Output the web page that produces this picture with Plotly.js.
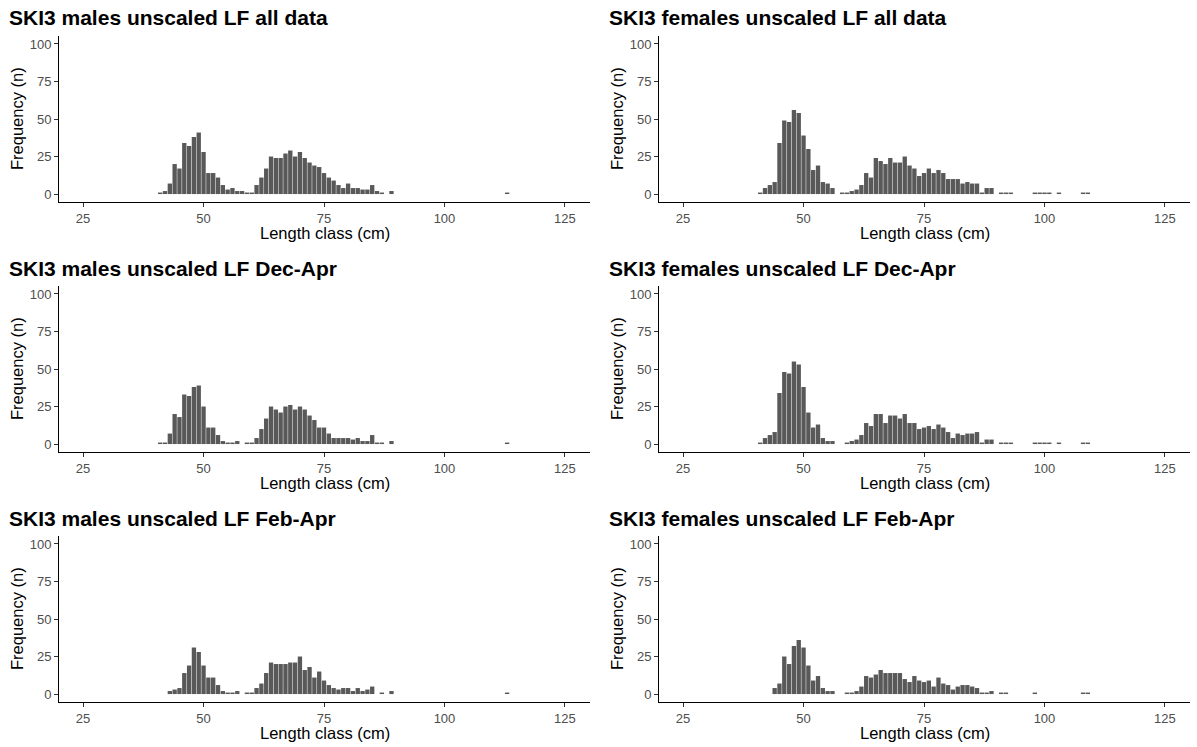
<!DOCTYPE html>
<html>
<head>
<meta charset="utf-8">
<script src="https://cdn.plot.ly/plotly-3.0.1.min.js"></script>
<style>html,body{margin:0;padding:0;background:#fff;}#chart{width:1197px;height:747px;}</style>
</head>
<body>
<div id="chart"></div>
<script>
// Panel titles
const panelTitles = [
  "SKI3 males unscaled LF all data", "SKI3 females unscaled LF all data",
  "SKI3 males unscaled LF Dec-Apr", "SKI3 females unscaled LF Dec-Apr",
  "SKI3 males unscaled LF Feb-Apr", "SKI3 females unscaled LF Feb-Apr"
];
const xTickVals = [25, 50, 75, 100, 125];
const yTickVals = [0, 25, 50, 75, 100];
const xAxisTitle = "Length class (cm)";
const yAxisTitle = "Frequency (n)";

// Males, all data
const malesAllLen = [41,42,43,44,45,46,47,48,49,50,51,52,53,54,55,56,57,58,59,60,61,62,63,64,65,66,67,68,69,70,71,72,73,74,75,76,77,78,79,80,81,82,83,84,85,86,87,89,113];
const malesAllN   = [1,2,7,20,17,34,32,38,41,28,14,14,11,6,3,4,2,2,1,1,6,11,17,25,24,24,27,29,25,28,24,21,19,18,14,11,9,6,4,7,4,4,3,3,6,2,1,2,1];

// Females, all data
const femalesAllLen = [41,42,43,44,45,46,47,48,49,50,51,52,53,54,55,56,58,59,60,61,62,63,64,65,66,67,68,69,70,71,72,73,74,75,76,77,78,79,80,81,82,83,84,85,86,87,88,89,91,92,93,98,99,100,101,103,108,109];
const femalesAllN   = [1,4,6,8,34,49,48,56,54,39,30,16,19,8,7,4,1,1,2,3,6,14,11,24,22,20,24,21,21,25,19,17,12,14,17,14,16,14,10,10,10,7,8,7,7,1,4,4,1,1,1,1,1,1,1,1,1,1];

// Males, Dec-Apr
const malesDecLen = [41,42,43,44,45,46,47,48,49,50,51,52,53,54,55,56,57,59,60,61,62,63,64,65,66,67,68,69,70,71,72,73,74,75,76,77,78,79,80,81,82,83,84,85,86,87,89,113];
const malesDecN   = [1,1,7,20,18,33,32,38,39,25,11,11,6,2,1,1,2,1,1,4,10,17,25,23,21,25,26,23,25,23,19,16,11,11,7,4,4,4,4,3,4,2,2,6,1,1,2,1];

// Females, Dec-Apr
const femalesDecLen = [41,42,43,44,45,46,47,48,49,50,51,52,53,54,55,56,59,60,61,62,63,64,65,66,67,68,69,70,71,72,73,74,75,76,77,78,79,80,81,82,83,84,85,86,87,88,89,91,92,93,98,99,100,101,103,108,109];
const femalesDecN   = [1,4,6,8,34,48,47,55,53,38,21,11,13,4,2,2,1,2,3,6,14,12,20,20,14,19,19,17,20,14,14,10,11,12,10,13,11,8,4,7,6,7,7,8,1,3,3,1,1,1,1,1,1,1,1,1,1];

// Males, Feb-Apr
const malesFebLen = [43,44,45,46,47,48,49,50,51,52,53,54,55,56,57,59,60,61,62,63,64,65,66,67,68,69,70,71,72,73,74,75,76,77,78,79,80,81,82,83,84,85,87,89,113];
const malesFebN   = [2,3,4,14,19,31,28,19,11,11,6,2,1,1,2,1,1,4,7,14,21,20,20,20,21,21,25,16,18,11,15,9,6,4,3,4,4,2,4,2,3,5,1,2,1];

// Females, Feb-Apr
const femalesFebLen = [44,45,46,47,48,49,50,51,52,53,54,55,56,59,60,61,62,63,64,65,66,67,68,69,70,71,72,73,74,75,76,77,78,79,80,81,82,83,84,85,86,87,88,89,91,92,98,108,109];
const femalesFebN   = [4,7,25,20,32,36,31,19,9,12,4,2,2,1,1,2,5,12,11,13,16,14,14,14,14,10,8,12,9,8,9,5,11,7,6,3,5,6,6,5,4,1,1,2,1,1,1,1,1];

const panelData = [
  [malesAllLen, malesAllN], [femalesAllLen, femalesAllN],
  [malesDecLen, malesDecN], [femalesDecLen, femalesDecN],
  [malesFebLen, malesFebN], [femalesFebLen, femalesFebN]
];

const W = 1197, H = 747;
const colPx = [[59, 590], [659, 1190]];
const rowPx = [[36, 202], [286, 452], [536, 702]];
const FONT = "Liberation Sans, Arial, sans-serif";
const barColor = "#595959";

const traces = [];
const layout = {
  width: W, height: H,
  margin: {l: 0, r: 0, t: 0, b: 0},
  paper_bgcolor: "#ffffff", plot_bgcolor: "#ffffff",
  showlegend: false, bargap: 0.1,
  font: {family: FONT, color: "#000"},
  annotations: []
};

panelData.forEach((d, i) => {
  const r = Math.floor(i / 2), c = i % 2;
  const ax = i === 0 ? "" : String(i + 1);
  traces.push({
    type: "bar", x: d[0], y: d[1],
    xaxis: "x" + ax, yaxis: "y" + ax,
    marker: {color: barColor, line: {width: 0}},
    hoverinfo: "x+y"
  });
  const xd = [colPx[c][0] / W, colPx[c][1] / W];
  const yd = [1 - rowPx[r][1] / H, 1 - rowPx[r][0] / H];
  const common = {
    showline: true, linecolor: "#000", linewidth: 1,
    ticks: "outside", ticklen: 4, tickcolor: "#333", tickwidth: 1,
    showgrid: false, zeroline: false,
    tickfont: {family: FONT, size: 13, color: "#4d4d4d"}
  };
  layout["xaxis" + ax] = Object.assign({}, common, {
    domain: xd, range: [20, 130.2], tickmode: "array", tickvals: xTickVals,
    anchor: "y" + ax
  });
  layout["yaxis" + ax] = Object.assign({}, common, {
    domain: yd, range: [-5.3, 105.3], tickmode: "array", tickvals: yTickVals,
    anchor: "x" + ax
  });
  // panel title
  layout.annotations.push({
    text: "<b>" + panelTitles[i] + "</b>", xref: "paper", yref: "paper",
    x: (colPx[c][0] - 52) / W, y: 1 - (rowPx[r][0] - 18) / H,
    xanchor: "left", yanchor: "middle", showarrow: false,
    font: {family: FONT, size: 21, color: "#000"}
  });
  // x axis title
  layout.annotations.push({
    text: xAxisTitle, xref: "paper", yref: "paper",
    x: (xd[0] + xd[1]) / 2, y: 1 - (rowPx[r][1] + 31) / H,
    xanchor: "center", yanchor: "middle", showarrow: false,
    font: {family: FONT, size: 16.5, color: "#000"}
  });
  // y axis title
  layout.annotations.push({
    text: yAxisTitle, xref: "paper", yref: "paper",
    x: (colPx[c][0] - 42) / W, y: (yd[0] + yd[1]) / 2,
    xanchor: "center", yanchor: "middle", textangle: -90, showarrow: false,
    font: {family: FONT, size: 16.5, color: "#000"}
  });
});

Plotly.newPlot("chart", traces, layout, {displayModeBar: false, staticPlot: true});
</script>
</body>
</html>
